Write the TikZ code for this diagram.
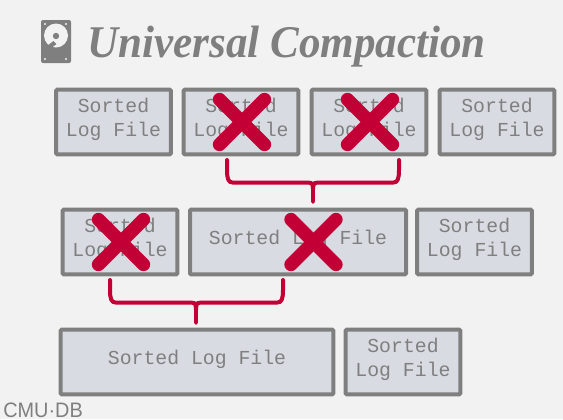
\documentclass[tikz,border=0pt]{standalone}
\usepackage{fontspec}
\setmainfont{Liberation Serif}
\setsansfont{Liberation Sans}
\setmonofont{Liberation Mono}
\definecolor{bggray}{HTML}{F2F2F2}
\definecolor{boxfill}{HTML}{D8DBE2}
\definecolor{linegray}{HTML}{7F7F7F}
\definecolor{crim}{HTML}{C20036}
\tikzset{
  x=0.75pt,y=-0.75pt,
  filebox/.style={draw=linegray,fill=boxfill,line width=3pt,rounded corners=0.8pt,inner sep=0pt,
    minimum height=48.4pt},
  smallbox/.style={filebox,minimum width=86pt},
  filetext/.style={inner sep=0pt,text=linegray,align=center,
    font=\ttfamily\fontsize{14.85}{18}\selectfont},
  crossline/.style={draw=crim,line width=10pt,line cap=round},
  bracketline/.style={draw=crim,line width=3pt,line cap=round,line join=round},
  spike/.style={fill=crim,draw=none},
}
\newcommand{\crossmark}[1]{%
  \draw[crossline] ([shift={(-22.5,-22.5)}]#1) -- ([shift={(22.5,22.5)}]#1);
  \draw[crossline] ([shift={(-22.5,22.5)}]#1) -- ([shift={(22.5,-22.5)}]#1);}
\newcommand{\bracketmark}[4]{%
  \draw[bracketline] (#1) -- ++(0,10) .. controls +(0,9) and +(-4,0) .. ++(5.5,12.5) -- ([shift={(-5,0)}]#3 |- #4)
     .. controls +(3,0) and +(-1,-1) .. ([shift={(0,2)}]#3 |- #4);
  \draw[bracketline] (#2) -- ++(0,10) .. controls +(0,9) and +(4,0) .. ++(-5.5,12.5) -- ([shift={(5,0)}]#3 |- #4)
     .. controls +(-3,0) and +(1,-1) .. ([shift={(0,2)}]#3 |- #4);
  \fill[spike] ([shift={(-3,1)}]#3 |- #4) .. controls +(1.2,3) and +(0,-10) .. ([shift={(-1.8,0)}]#3)
     arc[start angle=180,end angle=0,radius=1.8] .. controls +(0,-10) and +(-1.2,3) .. ([shift={(3,1)}]#3 |- #4) -- cycle;}
\begin{document}
\begin{tikzpicture}
\useasboundingbox (0,0) rectangle (563,419);
\clip (0,0) rectangle (563,419);
\fill[bggray] (0,0) rectangle (563,419);
% drive icon
\fill[linegray,rounded corners=1.5pt] (41,20) rectangle (71,63);
\fill[bggray] (56,35.5) circle[radius=12];
\fill[linegray] (56,36) circle[radius=3.2];
\fill[linegray] (47,46) -- (53.5,41) -- (56.5,44) -- (50,49) -- cycle;
\foreach \px/\py in {45/24,66/24,45/59,66/59}{\fill[bggray] (\px,\py) circle[radius=1.2];}
% title
\node[anchor=base west,inner sep=0pt,text=linegray,font=\rmfamily\bfseries\itshape\fontsize{34}{40}\selectfont] (title) at (87,57) {\scalebox{0.95}[1]{Universal Compaction}};
% row 1
\node[smallbox] (a1) at (113.5,122) {};
\node[smallbox] (a2) at (241,122) {};
\node[smallbox] (a3) at (369,122) {};
\node[smallbox] (a4) at (497,122) {};
\node[filetext] (ta1) at ([yshift=2.2pt]a1.center) {Sorted\\Log File};
\node[filetext] (ta2) at ([yshift=2.2pt]a2.center) {Sorted\\Log File};
\node[filetext] (ta3) at ([yshift=2.2pt]a3.center) {Sorted\\Log File};
\node[filetext] (ta4) at ([yshift=2.2pt]a4.center) {Sorted\\Log File};
% row 2
\node[smallbox] (b1) at (120,242) {};
\node[filebox,minimum width=162pt] (b2) at (298,242) {};
\node[smallbox] (b3) at (474.5,242) {};
\node[filetext] (tb1) at ([yshift=2.2pt]b1.center) {Sorted\\Log File};
\node[filetext] (tb2) at ([yshift=2.2pt]b2.center) {Sorted Log File};
\node[filetext] (tb3) at ([yshift=2.2pt]b3.center) {Sorted\\Log File};
% row 3
\node[filebox,minimum width=204.5pt] (c1) at (197,362) {};
\node[smallbox] (c2) at (403,362) {};
\node[filetext] (tc1) at ([yshift=2.2pt]c1.center) {Sorted Log File};
\node[filetext] (tc2) at ([yshift=2.2pt]c2.center) {Sorted\\Log File};
% crosses
\coordinate (xa2) at (242,122);
\coordinate (xa3) at (370,122);
\coordinate (xb1) at (121,242);
\coordinate (xb2) at (313.5,242);
\crossmark{xa2}
\crossmark{xa3}
\crossmark{xb1}
\crossmark{xb2}
% brackets
\coordinate (bla) at (227,160);
\coordinate (bra) at (399,160);
\coordinate (tipa) at (313,202);
\coordinate (hya) at (313,182.5);
\bracketmark{bla}{bra}{tipa}{hya}
\coordinate (blb) at (110,280);
\coordinate (brb) at (283,280);
\coordinate (tipb) at (196,323);
\coordinate (hyb) at (196,302.5);
\bracketmark{blb}{brb}{tipb}{hyb}
% logo
\node[anchor=base west,inner sep=0pt,text=linegray,font=\sffamily\fontsize{15.7}{18}\selectfont] (logo) at (3,417) {\scalebox{0.95}[1]{CMU·DB}};
\end{tikzpicture}
\end{document}
